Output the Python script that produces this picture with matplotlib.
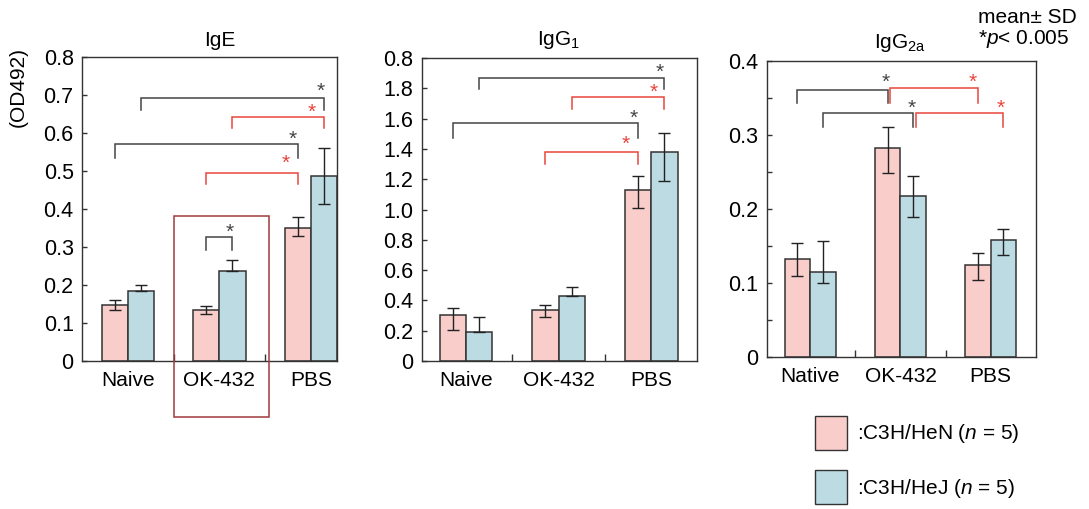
import matplotlib
matplotlib.use("Agg")
import matplotlib.pyplot as plt
import numpy as np
from matplotlib.patches import Rectangle, Patch
from matplotlib.ticker import FixedLocator, MultipleLocator

plt.rcParams['font.family'] = ['Liberation Sans', 'DejaVu Sans']
plt.rcParams['mathtext.fontset'] = 'custom'
plt.rcParams['mathtext.rm'] = 'Liberation Sans'
plt.rcParams['mathtext.it'] = 'Liberation Sans:italic'

# ─── data ─────────────────────────────────────────────────────────────────────
groups_ig = ['Naive', 'OK-432', 'PBS']
groups_g2a = ['Native', 'OK-432', 'PBS']
strains = [':C3H/HeN ($n$ = 5)', ':C3H/HeJ ($n$ = 5)']

# IgE
ige_hen = [0.148, 0.133, 0.349]
ige_hen_err = [[0.014, 0.010, 0.020], [0.013, 0.011, 0.030]]
ige_hej = [0.183, 0.236, 0.487]
ige_hej_err = [[0.0, 0.0, 0.075], [0.017, 0.029, 0.073]]
ige_ticks = [0, 0.1, 0.2, 0.3, 0.4, 0.5, 0.6, 0.7, 0.8]
ige_ticklabels = ['0', '0.1', '0.2', '0.3', '0.4', '0.5', '0.6', '0.7', '0.8']

# IgG1
g1_hen = [0.302, 0.335, 1.129]
g1_hen_err = [[0.099, 0.044, 0.121], [0.051, 0.035, 0.095]]
g1_hej = [0.190, 0.430, 1.378]
g1_hej_err = [[0.0, 0.0, 0.190], [0.101, 0.060, 0.130]]
g1_ticks = [0, 0.2, 0.4, 0.6, 0.8, 1.0, 1.2, 1.4, 1.6, 1.8, 2.0]
g1_ticklabels = ['0', '0.2', '0.4', '0.6', '0.8', '1.0', '1.2', '1.4', '1.6', '1.8', '0.8']

# IgG2a
g2a_hen = [0.133, 0.282, 0.124]
g2a_hen_err = [[0.023, 0.034, 0.020], [0.021, 0.028, 0.017]]
g2a_hej = [0.115, 0.217, 0.158]
g2a_hej_err = [[0.015, 0.028, 0.020], [0.042, 0.028, 0.015]]
g2a_ticks = [0, 0.1, 0.2, 0.3, 0.4]
g2a_ticklabels = ['0', '0.1', '0.2', '0.3', '0.4']

# significance brackets: (group1, strain1, group2, strain2, height, drop, colour, star dx, star y)
ige_brackets = [
    (0, 1, 2, 1, 0.692, 0.032, 'k', -0.04, 0.724),
    (1, 1, 2, 1, 0.642, 0.030, 'r', -0.13, 0.670),
    (0, 0, 2, 0, 0.571, 0.037, 'k', -0.06, 0.598),
    (1, 0, 2, 0, 0.496, 0.030, 'r', -0.13, 0.534),
    (1, 0, 1, 1, 0.325, 0.033, 'k', -0.03, 0.354),
]
g1_brackets = [
    (0, 1, 2, 1, 1.868, 0.071, 'k', -0.045, 1.94),
    (1, 1, 2, 1, 1.742, 0.077, 'r', -0.12, 1.81),
    (0, 0, 2, 0, 1.574, 0.103, 'k', -0.05, 1.636),
    (1, 0, 2, 0, 1.378, 0.078, 'r', -0.13, 1.466),
]
g2a_brackets = [
    (0, 0, 1, 0, 0.361, 0.018, 'k', -0.02, 0.378),
    (1, 0, 2, 0, 0.363, 0.020, 'r', -0.055, 0.378),
    (0, 1, 1, 1, 0.330, 0.019, 'k', -0.015, 0.343),
    (1, 1, 2, 1, 0.330, 0.019, 'r', -0.035, 0.343),
]

# ─── style ────────────────────────────────────────────────────────────────────
PINK = '#f9cdca'
BLUE = '#bcdbe3'
EDGE = '#333333'
COLORS = {'k': '#444444', 'r': '#e8453c'}
W = 0.285
FS = 15

fig = plt.figure(figsize=(10.89, 5.09), dpi=100)
ax1 = fig.add_axes([0.0753, 0.2908, 0.2342, 0.5972])
ax2 = fig.add_axes([0.3872, 0.2908, 0.2528, 0.5952])
ax3 = fig.add_axes([0.7040, 0.2980, 0.2473, 0.5827])


def draw_panel(ax, title, groups, hen, hen_err, hej, hej_err, ylim, ticks, ticklabels,
               xlim, brackets, red_shift=0.0):
    x = np.arange(len(groups))
    ekw = dict(ecolor='#222222', elinewidth=1.0, capsize=4, capthick=1.0)
    ax.bar(x - W / 2, hen, W, yerr=hen_err, color=PINK, edgecolor=EDGE, linewidth=1.1,
           error_kw=ekw, zorder=2)
    ax.bar(x + W / 2, hej, W, yerr=hej_err, color=BLUE, edgecolor=EDGE, linewidth=1.1,
           error_kw=ekw, zorder=2)
    ax.set_xlim(*xlim)
    ax.set_ylim(*ylim)
    ax.set_yticks(ticks)
    ax.set_yticklabels(ticklabels)
    ax.set_xticks(x)
    ax.set_xticklabels(groups)
    ax.xaxis.set_minor_locator(FixedLocator([0.5, 1.5]))
    ax.tick_params(axis='x', which='major', length=0, pad=7, labelsize=FS)
    ax.tick_params(axis='x', which='minor', direction='in', length=4.7, width=1.0,
                   color=EDGE)
    ax.tick_params(axis='y', which='both', direction='in', length=3.8, width=1.0,
                   color=EDGE, pad=6, labelsize=FS + 0.5)
    for sp in ax.spines.values():
        sp.set_linewidth(1.0)
        sp.set_color(EDGE)
    ax.annotate(title, xy=(1, 1), xycoords=('data', 'axes fraction'),
                xytext=(0, 5), textcoords='offset points',
                ha='center', va='bottom', fontsize=FS)

    def pos(g, s):
        return g + (s - 0.5) * W

    for g1, s1, g2, s2, h, d, c, sdx, sy in brackets:
        x1, x2 = pos(g1, s1), pos(g2, s2)
        if c == 'r':
            x1 += red_shift
        ax.plot([x1, x1, x2, x2], [h - d, h, h, h - d], color=COLORS[c], lw=1.1,
                zorder=3, solid_joinstyle='miter')
        ax.annotate('*', xy=(x2 + sdx, sy), xytext=(0, -4), textcoords='offset points',
                    color=COLORS[c], ha='center', va='center', fontsize=FS)


draw_panel(ax1, 'IgE', groups_ig, ige_hen, ige_hen_err, ige_hej, ige_hej_err,
           (0, 0.8), ige_ticks, ige_ticklabels, (-0.5, 2.284), ige_brackets)
draw_panel(ax2, 'IgG$_1$', groups_ig, g1_hen, g1_hen_err, g1_hej, g1_hej_err,
           (0, 2.0), g1_ticks, g1_ticklabels, (-0.48, 2.495), g1_brackets)
draw_panel(ax3, 'IgG$_{\\mathrm{2a}}$', groups_g2a, g2a_hen, g2a_hen_err, g2a_hej,
           g2a_hej_err, (0, 0.4), g2a_ticks, g2a_ticklabels, (-0.484, 2.503),
           g2a_brackets, red_shift=0.03)
ax3.yaxis.set_minor_locator(MultipleLocator(0.05))

# highlight box around OK-432 in the IgE panel
ax1.add_patch(Rectangle((0.5, -0.147), 1.04, 0.529, fill=False, edgecolor='#a0393c',
                        linewidth=1.1, clip_on=False, zorder=4))

fig.text(0.0165, 0.83, '(OD492)', rotation=90, ha='center', va='center', fontsize=FS)
fig.text(0.898, 0.966, 'mean\u00b1 SD', ha='left', va='center', fontsize=FS)
fig.text(0.898, 0.923, '*$p$< 0.005', ha='left', va='center', fontsize=FS)

handles = [Patch(facecolor=PINK, edgecolor=EDGE, linewidth=1.0),
           Patch(facecolor=BLUE, edgecolor=EDGE, linewidth=1.0)]
fig.legend(handles, strains, loc='upper left', bbox_to_anchor=(0.748, 0.183),
           frameon=False, fontsize=FS, handlelength=1.55, handleheight=2.15,
           labelspacing=0.95, handletextpad=0.5, borderpad=0, borderaxespad=0)

fig.savefig('out.png', dpi=100)
